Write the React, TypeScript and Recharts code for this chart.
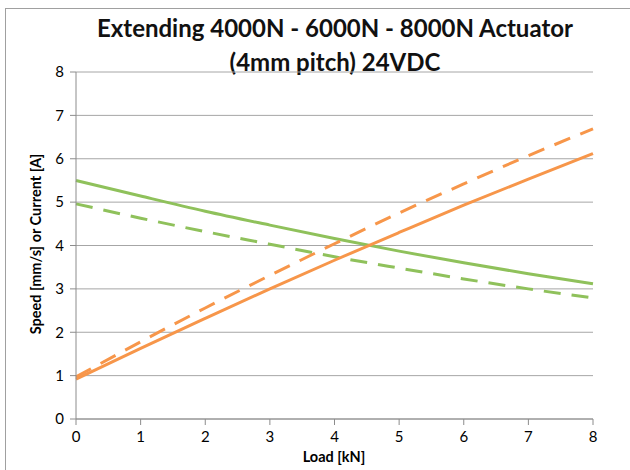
import React from 'react';
import { LineChart, Line, XAxis, YAxis, CartesianGrid } from 'recharts';

// load [kN]
const loads = [0, 1, 2, 3, 4, 5, 6, 7, 8];
// speed [mm/s] (green) and current [A] (orange)
const speedSolid = [5.5, 5.14, 4.79, 4.47, 4.16, 3.87, 3.6, 3.35, 3.12];
const speedDashed = [4.96, 4.63, 4.32, 4.03, 3.74, 3.48, 3.23, 3.0, 2.79];
const currentSolid = [0.92, 1.63, 2.32, 3.0, 3.66, 4.3, 4.93, 5.53, 6.12];
const currentDashed = [0.97, 1.78, 2.56, 3.31, 4.04, 4.75, 5.42, 6.07, 6.69];
const xTicks = [0, 1, 2, 3, 4, 5, 6, 7, 8];
const yTicks = [0, 1, 2, 3, 4, 5, 6, 7, 8];

const data = loads.map((load, i) => ({
  load,
  speedSolid: speedSolid[i],
  speedDashed: speedDashed[i],
  currentSolid: currentSolid[i],
  currentDashed: currentDashed[i],
}));

const GREEN = '#8FC15B';
const ORANGE = '#F7964A';
const FONT = 'Lato, "Open Sans", sans-serif';

export default function App() {
  return (
    <div style={{ position: 'absolute', left: 0, top: 0, width: 630, height: 470, background: '#fff', fontFamily: FONT }}>
      <div style={{ position: 'absolute', left: 5, top: 8, right: 0, bottom: 0, borderTop: '1px solid #a0a0a0', borderLeft: '1px solid #a0a0a0' }} />
      <div
        style={{
          position: 'absolute',
          left: 35,
          width: 600,
          top: 11,
          textAlign: 'center',
          fontWeight: 700,
          fontSize: 24,
          lineHeight: '34px',
          color: '#111',
        }}
      >
        Extending 4000N - 6000N - 8000N Actuator
        <br />
        (4mm pitch) 24VDC
      </div>
      <LineChart width={630} height={470} data={data} margin={{ top: 72, right: 37, bottom: 20, left: 0 }} style={{ position: 'absolute', left: 0, top: 0 }}>
        <CartesianGrid vertical={false} stroke="#a6a6a6" strokeWidth={1} />
        <XAxis
          dataKey="load"
          type="number"
          domain={[0, 8]}
          ticks={xTicks}
          height={31}
          axisLine={{ stroke: '#8c8c8c' }}
          tickLine={{ stroke: '#8c8c8c' }}
          tickSize={6}
          tickMargin={6}
          tick={{ fill: '#000', fontSize: 15, fontFamily: FONT }}
          label={{
            content: () => (
              <text x={334} y={462} textAnchor="middle" fontWeight={700} fontSize={14.5} fontFamily={FONT} fill="#000">
                Load [kN]
              </text>
            ),
          }}
        />
        <YAxis
          type="number"
          domain={[0, 8]}
          ticks={yTicks}
          width={76}
          axisLine={{ stroke: '#8c8c8c' }}
          tickLine={{ stroke: '#8c8c8c' }}
          tickSize={6}
          tickMargin={6}
          tick={{ fill: '#000', fontSize: 15, fontFamily: FONT }}
          label={{
            content: () => (
              <text x={41} y={244} transform="rotate(-90 41 244)" textAnchor="middle" fontWeight={700} fontSize={14.5} fontFamily={FONT} fill="#000">
                Speed [mm/s] or Current [A]
              </text>
            ),
          }}
        />
        <Line type="monotone" dataKey="speedSolid" stroke={GREEN} strokeWidth={3} dot={false} isAnimationActive={false} />
        <Line type="monotone" dataKey="speedDashed" stroke={GREEN} strokeWidth={3} strokeDasharray="17 11" dot={false} isAnimationActive={false} />
        <Line type="monotone" dataKey="currentSolid" stroke={ORANGE} strokeWidth={3} dot={false} isAnimationActive={false} />
        <Line type="monotone" dataKey="currentDashed" stroke={ORANGE} strokeWidth={3} strokeDasharray="17 11" dot={false} isAnimationActive={false} />
      </LineChart>
    </div>
  );
}
